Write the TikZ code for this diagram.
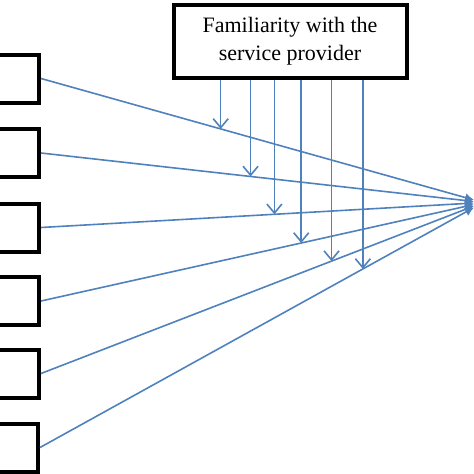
\documentclass[tikz,border=0pt]{standalone}
\usepackage{fontspec}
\setmainfont{Liberation Serif}
\usetikzlibrary{arrows.meta,calc}
\definecolor{lineblue}{RGB}{79,129,189}
\begin{document}
\begin{tikzpicture}[x=1pt,y=-1pt,
  leftbox/.style={draw=black,line width=4pt,minimum width=52pt,minimum height=48pt,inner sep=0pt},
  topbox/.style={draw=black,line width=4pt,minimum width=233pt,minimum height=73pt,align=center,
    font=\fontsize{22}{28}\selectfont},
  link/.style={draw=lineblue,line width=1.6pt,-{Latex[length=9pt,width=9pt]}},
  mod/.style={draw=lineblue,line width=1.6pt,-{Straight Barb[length=9pt,width=15pt,line width=1.6pt]}}]
\useasboundingbox (0,0) rectangle (474,474);
\clip (0,0) rectangle (474,474);
\node[topbox] (top) at (290,41.5) {Familiarity with the\\service provider};
\node[leftbox] (b1) at (13,78.5) {};
\node[leftbox] (b2) at (13,153) {};
\node[leftbox] (b3) at (13,227.5) {};
\node[leftbox] (b4) at (13,301) {};
\node[leftbox] (b5) at (13,373.5) {};
\node[leftbox] (b6) at (12,447.5) {};
\coordinate (e1) at (474,200);
\coordinate (e2) at (474,201.5);
\coordinate (e3) at (474,203);
\coordinate (e4) at (474,204.5);
\coordinate (e5) at (474,206);
\coordinate (e6) at (474,207.5);
\draw[link] (b1.east) -- coordinate[pos=0.415] (t1) (e1);
\draw[link] (b2.east) -- coordinate[pos=0.484] (t2) (e2);
\draw[link] (b3.east) -- coordinate[pos=0.539] (t3) (e3);
\draw[link] (b4.east) -- coordinate[pos=0.601] (t4) (e4);
\draw[link] (b5.east) -- coordinate[pos=0.671] (t5) (e5);
\draw[link] (b6.east) -- coordinate[pos=0.744] (t6) (e6);
\foreach \i in {1,...,6} {
  \draw[mod] (t\i |- top.south) -- (t\i);
}
\end{tikzpicture}
\end{document}
